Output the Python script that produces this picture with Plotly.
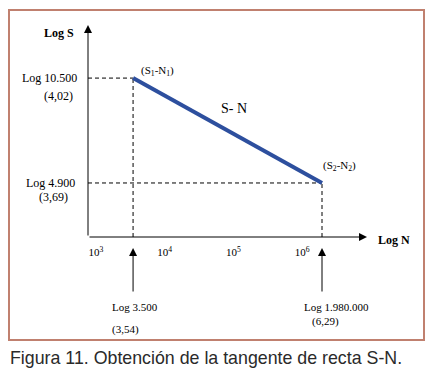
import plotly.graph_objects as go

# ---- data (log values) ----
point_labels = ["(S<sub>1</sub>-N<sub>1</sub>)", "(S<sub>2</sub>-N<sub>2</sub>)"]
log_n = [3.54, 6.29]
log_s = [4.02, 3.69]
n_text = ["Log 3.500", "Log 1.980.000"]
n_val_text = ["(3,54)", "(6,29)"]
s_text = ["Log 10.500", "Log 4.900"]
s_val_text = ["(4,02)", "(3,69)"]
tick_vals = [3, 4, 5, 6]
tick_text = ["10<sup>3</sup>", "10<sup>4</sup>", "10<sup>5</sup>", "10<sup>6</sup>"]
line_name = "S- N"
caption = "Figura 11. Obtención de la tangente de recta S-N."

W, H = 433, 389
L, T, PW, PH = 88, 25, 279, 212
X_RANGE = [2.884, 6.945]
Y_RANGE = [3.52, 4.187]

def px(x):
    return (x - L) / PW

def py(y):
    return (T + PH - y) / PH

serif = "Liberation Serif"
fig = go.Figure()

# dashed guide lines
for n, s in zip(log_n, log_s):
    fig.add_trace(go.Scatter(x=[X_RANGE[0], n], y=[s, s], mode="lines",
                             line=dict(color="black", width=1, dash="4px,3px"),
                             hoverinfo="skip", showlegend=False))
    fig.add_trace(go.Scatter(x=[n, n], y=[Y_RANGE[0], s], mode="lines",
                             line=dict(color="black", width=1, dash="4px,3px"),
                             hoverinfo="skip", showlegend=False))

# S-N line
fig.add_trace(go.Scatter(x=log_n, y=log_s, mode="lines",
                         line=dict(color="#2d4f9e", width=4),
                         name=line_name, showlegend=False))

ann = []

def text_ann(**kw):
    base = dict(showarrow=False, xanchor="center", yanchor="middle",
                font=dict(family=serif, size=12, color="black"))
    base.update(kw)
    ann.append(base)

# axes arrows
ann.append(dict(x=0, y=1, xref="paper", yref="paper", ax=0, ay=PH, text="",
                showarrow=True, arrowhead=2, arrowsize=1.6, arrowwidth=1, arrowcolor="black"))
ann.append(dict(x=1, y=0, xref="paper", yref="paper", ax=-PW, ay=0, text="",
                showarrow=True, arrowhead=2, arrowsize=1.6, arrowwidth=1, arrowcolor="black"))
text_ann(x=px(59), y=py(33), xref="paper", yref="paper", text="<b>Log S</b>")
text_ann(x=px(394), y=py(240), xref="paper", yref="paper", text="<b>Log N</b>")

# S value labels
s_centers = [(49, 58), (50, 53)]
s_val_dy = [-18, -14]
for s, t1, t2, (c1, c2), dy in zip(log_s, s_text, s_val_text, s_centers, s_val_dy):
    text_ann(x=px(c1), y=s, xref="paper", yref="y", text=t1)
    text_ann(x=px(c2), y=s, xref="paper", yref="y", yshift=dy, text=t2)

# N arrows and labels
n_label_dx = [(2, -8), (14, 3)]
n_val_dy = [329, 321]
for n, t1, t2, (d1, d2), vy in zip(log_n, n_text, n_val_text, n_label_dx, n_val_dy):
    ann.append(dict(x=n, y=py(248), xref="x", yref="paper", ax=0, ay=45, text="",
                    showarrow=True, arrowhead=2, arrowsize=1.6, arrowwidth=1, arrowcolor="black"))
    text_ann(x=n, y=py(307), xref="x", yref="paper", xshift=d1, text=t1,
             font=dict(family=serif, size=11, color="black"))
    text_ann(x=n, y=py(vy), xref="x", yref="paper", xshift=d2, text=t2,
             font=dict(family=serif, size=11, color="black"))

# point labels
text_ann(x=log_n[0], y=log_s[0], xref="x", yref="y", xshift=24, yshift=7,
         text=point_labels[0], font=dict(family=serif, size=11, color="black"))
text_ann(x=log_n[1], y=log_s[1], xref="x", yref="y", xshift=17, yshift=17,
         text=point_labels[1], font=dict(family=serif, size=11, color="black"))
text_ann(x=px(234), y=py(108), xref="paper", yref="paper", text=line_name,
         font=dict(family=serif, size=14, color="black"))

# caption
text_ann(x=px(8), y=py(358), xref="paper", yref="paper", xanchor="left", text=caption,
         font=dict(family="Liberation Sans", size=17.8, color="#2a2a2a"))

fig.update_layout(
    width=W, height=H,
    margin=dict(l=L, r=W - L - PW, t=T, b=H - T - PH),
    paper_bgcolor="white", plot_bgcolor="white",
    xaxis=dict(range=X_RANGE, tickvals=tick_vals, ticktext=tick_text, showgrid=False,
               zeroline=False, showline=False, ticks="outside", ticklen=5,
               tickcolor="rgba(0,0,0,0)", tickfont=dict(family=serif, size=11, color="black")),
    yaxis=dict(range=Y_RANGE, showticklabels=False, showgrid=False, zeroline=False, showline=False),
    annotations=ann,
    shapes=[dict(type="rect", xref="paper", yref="paper", x0=px(9), x1=px(424), y0=py(340), y1=py(10),
                 line=dict(color="#c0806f", width=2), layer="below")],
)

fig.write_html("out.html", config={"displayModeBar": False},
               post_script="document.body.style.margin='0';")
